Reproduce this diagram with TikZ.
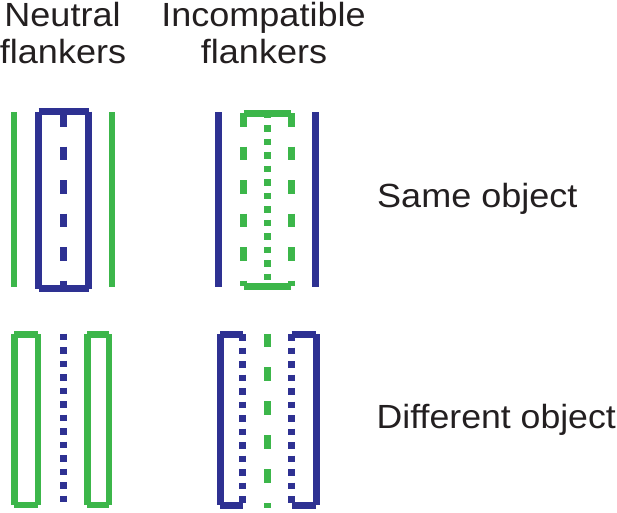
\documentclass[tikz,border=0pt]{standalone}
\usepackage{fontspec}
\setmainfont{Liberation Sans}
\definecolor{myblue}{RGB}{46,49,146}
\definecolor{mygreen}{RGB}{60,182,74}
\definecolor{mytext}{RGB}{35,31,32}
\tikzset{
  bl/.style={draw=myblue, line width=7pt, line cap=butt},
  gr/.style={draw=mygreen, line width=6.5pt, line cap=butt},
  dashpat/.style={dash pattern=on 13.5pt off #1},
  dotpat/.style={dash pattern=on 6.5pt off 7pt},
  lbl/.style={text=mytext, inner sep=0pt, font=\fontsize{33.5}{37}\selectfont, xscale=1.075},
}
\begin{document}
\begin{tikzpicture}[x=1pt,y=-1pt]
\useasboundingbox (0,0) rectangle (617,512);
% headers
\node[lbl, anchor=base] (h1a) at (62.5,26) {Neutral};
\node[lbl, anchor=base] (h1b) at (63,63) {flankers};
\node[lbl, anchor=base] (h2a) at (263.5,26) {Incompatible};
\node[lbl, anchor=base] (h2b) at (264,63) {flankers};
\node[lbl, anchor=base west] (same) at (377,207) {Same object};
\node[lbl, anchor=base west, xscale=0.99] (diff) at (376.5,428) {Different object};
% panel 1: neutral, same object
\draw[gr] (14,112) -- (14,287);
\draw[gr] (112,112) -- (112,287);
\draw[bl] (38.5,111.5) -- (88.5,111.5);
\draw[bl] (88.5,111.5) -- (88.5,288.5);
\draw[bl] (88.5,288.5) -- (38.5,288.5);
\draw[bl] (38.5,288.5) -- (38.5,111.5);
\draw[bl, dashpat=20pt] (63,113) -- (63,288.5);
% panel 2: incompatible, same object
\draw[bl] (218.5,112) -- (218.5,287);
\draw[bl] (315.5,112) -- (315.5,287);
\draw[gr, line width=7pt] (243.5,113) -- (291,113);
\draw[gr, line width=7pt] (243.5,286) -- (291,286);
\draw[gr, line width=7pt, dashpat=20pt] (243.5,113) -- (243.5,286);
\draw[gr, line width=7pt, dashpat=20pt] (291,113) -- (291,286);
\draw[gr, line width=7pt, dotpat] (267,111.5) -- (267,288);
% panel 3: neutral, different object
\draw[gr] (14.25,334.25) -- (37.75,334.25);
\draw[gr] (37.75,334.25) -- (37.75,504.75);
\draw[gr] (37.75,504.75) -- (14.25,504.75);
\draw[gr] (14.25,504.75) -- (14.25,334.25);
\draw[gr] (87.25,334.25) -- (108.75,334.25);
\draw[gr] (108.75,334.25) -- (108.75,504.75);
\draw[gr] (108.75,504.75) -- (87.25,504.75);
\draw[gr] (87.25,504.75) -- (87.25,334.25);
\draw[bl, dotpat] (63,333.5) -- (63,505);
% panel 4: incompatible, different object
\draw[bl] (220,334) -- (242.5,334);
\draw[bl] (220,334) -- (220,505);
\draw[bl] (220,505) -- (242.5,505);
\draw[bl, dotpat] (242.5,334) -- (242.5,505);
\draw[bl] (291.5,334) -- (316,334);
\draw[bl] (316,334) -- (316,505);
\draw[bl] (291.5,505) -- (316,505);
\draw[bl, dotpat] (291.5,334) -- (291.5,505);
\draw[gr, line width=7pt, dashpat=20.4pt] (267,333.5) -- (267,508);
\end{tikzpicture}
\end{document}
